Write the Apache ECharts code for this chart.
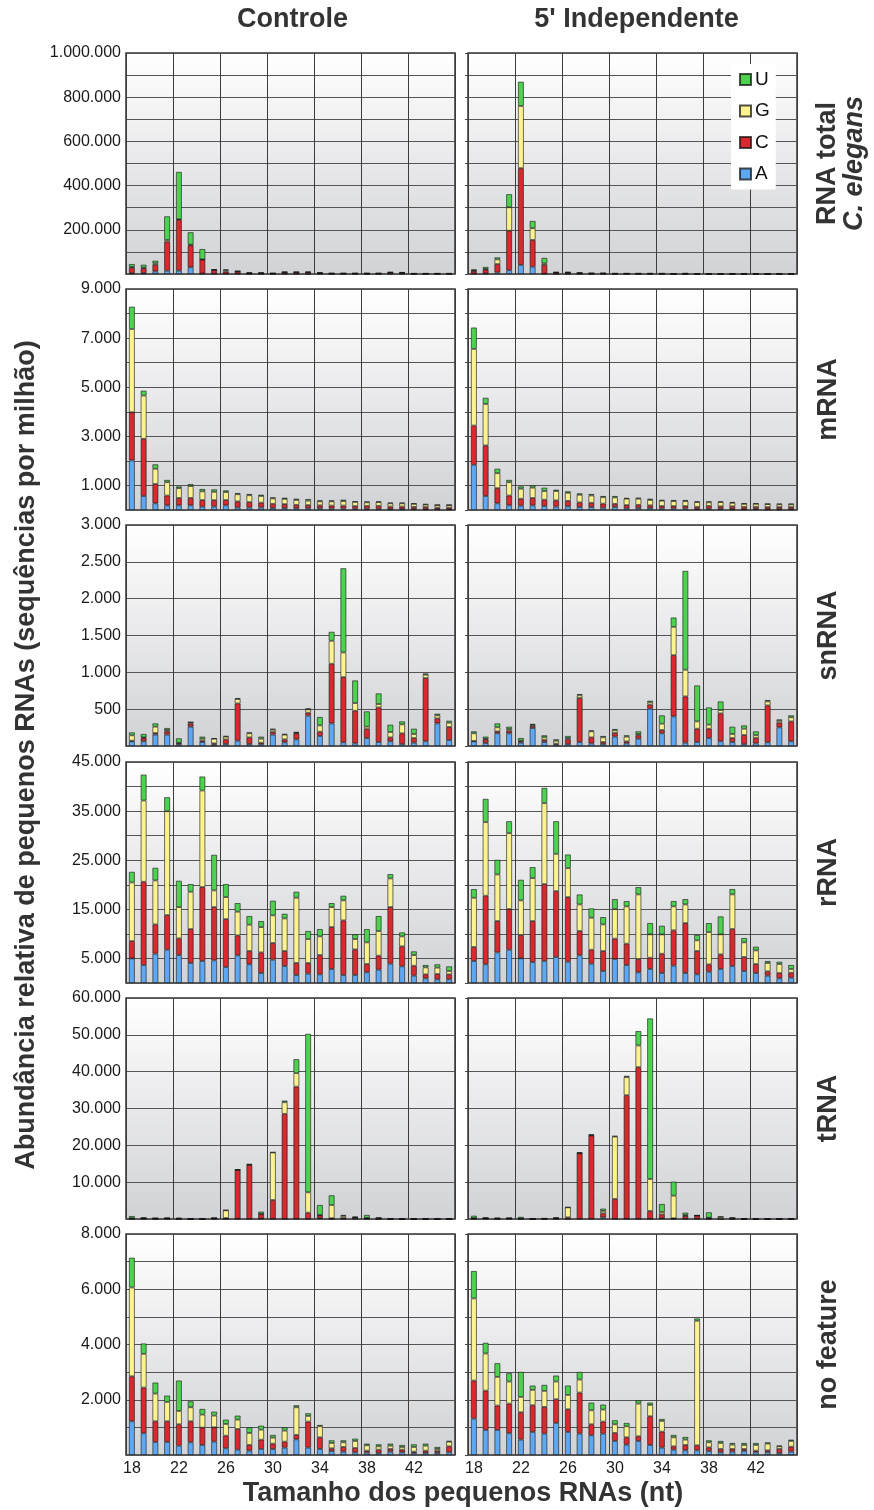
<!DOCTYPE html>
<html><head><meta charset="utf-8">
<script src="https://cdn.jsdelivr.net/npm/echarts@6/dist/echarts.min.js"></script>
<style>html,body{margin:0;padding:0;background:#fff}#c{width:874px;height:1510px}</style>
</head><body><div id="c"></div>
<script>
// ---------- data ----------
const categories = ['18','19','20','21','22','23','24','25','26','27','28','29','30','31','32','33','34','35','36','37','38','39','40','41','42','43','44','45'];
const bases = ['A','C','G','U'];
const columnTitles = ['Controle', "5' Independente"];
const rowTitles = ['RNA total', 'mRNA', 'snRNA', 'rRNA', 'tRNA', 'no feature'];
const xTitle = 'Tamanho dos pequenos RNAs (nt)';
const yTitle = 'Abundância relativa de pequenos RNAs (sequências por milhão)';

// RNA total C. elegans
const total_ctrl_A = [4000,4000,12000,15000,15000,30000,2000,1000,1000,1000,500,500,500,500,500,500,500,300,300,300,300,300,500,500,300,300,300,300];
const total_ctrl_C = [24000,22000,29000,131000,230000,100000,63000,17000,10000,10000,3000,3000,2000,7000,7000,7000,4000,2000,2000,2000,2000,2000,6000,5000,1500,1500,1500,1500];
const total_ctrl_G = [4000,3000,7000,8000,3000,3000,1000,1000,6000,1000,1000,1000,500,500,500,500,500,500,500,500,500,500,500,500,500,500,500,500];
const total_ctrl_U = [13000,13000,12000,107000,214000,56000,47000,2000,4000,2000,2500,2500,1000,2000,2000,2000,2000,1200,1200,1200,1200,1200,2000,2000,700,700,700,700];
const total_ind_A = [2000,2000,7000,17000,41000,33000,1000,500,500,300,300,300,200,200,200,200,200,100,100,100,100,100,100,100,100,100,100,100];
const total_ind_C = [12000,18000,38000,179000,438000,121000,40000,6000,6000,4000,2500,2500,2000,2000,2000,2000,2000,1000,1000,1000,500,500,500,500,500,500,500,500];
const total_ind_G = [2000,3000,21000,106000,281000,53000,7000,500,500,500,500,500,300,300,300,300,300,300,300,300,300,300,300,300,300,300,300,300];
const total_ind_U = [5000,9000,9000,59000,110000,33000,25000,2000,2000,1200,700,700,500,500,500,500,500,600,3000,600,300,300,300,300,300,300,300,300];

// mRNA
const mrna_ctrl_A = [2020,570,270,190,190,190,135,140,190,100,100,100,80,80,70,70,70,60,60,50,50,50,40,40,40,30,30,30];
const mrna_ctrl_C = [1960,2330,790,400,300,300,270,260,215,250,220,200,170,160,140,130,120,120,120,110,120,120,100,100,90,90,70,70];
const mrna_ctrl_G = [3390,1760,620,540,400,485,355,340,325,290,280,270,220,210,200,180,160,170,180,170,140,150,130,130,120,100,100,100];
const mrna_ctrl_U = [910,200,180,95,70,80,95,100,70,50,50,53,45,50,50,67,43,43,60,22,42,32,28,28,21,24,17,17];
const mrna_ind_A = [1840,570,270,190,176,190,163,136,150,120,120,90,120,70,80,80,60,60,60,40,50,50,40,30,40,30,30,30];
const mrna_ind_C = [1600,2060,620,400,284,300,257,257,220,190,170,170,130,130,130,110,100,100,100,90,120,100,110,100,90,90,90,90];
const mrna_ind_G = [3120,1690,610,540,407,420,352,379,330,310,300,260,260,260,250,220,220,200,200,190,140,170,140,120,120,120,110,110];
const mrna_ind_U = [870,250,180,95,95,95,136,55,60,58,60,49,59,28,41,50,26,46,46,32,42,32,35,21,21,17,27,27];

// snRNA
const snrna_ctrl_A = [63,63,154,154,23,262,54,18,27,72,27,23,154,50,90,411,136,307,50,36,108,54,63,27,45,63,307,81];
const snrna_ctrl_C = [9,45,22,45,13,41,18,18,63,506,90,22,36,40,82,41,58,809,885,443,122,470,54,145,63,859,68,177];
const snrna_ctrl_G = [73,9,86,18,9,18,27,63,37,59,55,54,31,64,9,45,86,312,335,104,32,45,73,122,55,45,41,58];
const snrna_ctrl_U = [40,46,45,27,59,4,28,5,9,14,13,28,14,9,9,14,113,122,1143,307,208,145,99,40,72,18,22,27];
const snrna_ind_A = [63,41,172,172,45,244,54,18,27,54,36,27,127,36,99,506,172,402,45,54,108,63,54,27,36,50,253,63];
const snrna_ind_C = [5,49,27,36,18,27,27,14,63,597,81,27,49,27,46,54,45,831,628,181,127,380,54,122,72,501,63,271];
const snrna_ind_G = [104,9,54,22,9,18,36,40,18,36,82,63,36,64,18,32,86,384,362,99,54,45,55,86,37,54,27,55];
const snrna_ind_U = [27,28,54,32,36,9,28,18,28,18,13,19,18,18,36,22,113,127,1342,488,235,117,99,45,54,19,18,27];

// rRNA
const rrna_ctrl_A = [5000,3660,5970,6780,5700,4070,4480,4610,3250,5630,3800,2030,4750,3460,1630,1900,1760,2850,1630,1630,2170,2710,3930,3390,1490,950,750,750];
const rrna_ctrl_C = [3540,16950,5960,7050,3390,6910,15050,10850,9760,4070,2710,4200,3390,3050,2440,2170,3930,8540,11120,5220,1690,2850,11530,4070,2030,810,1080,1010];
const rrna_ctrl_G = [11930,16540,8950,21150,6370,7600,19660,3390,4480,4810,5360,5150,5630,6640,13290,4880,3800,4070,4070,2100,4410,5020,5830,2030,2170,1420,1290,680];
const rrna_ctrl_U = [2170,5290,2580,2850,5360,1560,2850,7255,2650,1760,1760,1230,2980,950,1220,1630,1490,810,950,950,2710,3050,880,810,750,480,680,950];
const rrna_ind_A = [4475,3800,6240,6780,5020,4270,4480,5290,4340,5630,3930,2440,4880,3660,2170,2850,2030,3530,2030,1760,2300,2850,3460,2440,2030,1490,950,1090];
const rrna_ind_C = [2850,13970,6370,8270,4750,8340,15660,13420,13150,4950,2850,4070,4140,4340,2710,2300,3930,7190,10170,4750,1490,2980,7530,2850,1830,880,1080,1010];
const rrna_ind_G = [10030,14980,9490,15460,7050,8750,16480,7590,5900,5420,6510,5420,6030,7590,13150,4750,3930,4880,3800,2170,6580,4070,7050,2980,2780,1700,1830,750];
const rrna_ind_U = [1760,4750,2980,2440,4200,2240,3120,6650,2780,2030,1900,1490,2030,1090,1490,2310,1770,1080,1080,1090,1830,3660,1090,880,750,410,470,810];

// tRNA
const trna_ctrl_A = [50,50,30,30,30,0,0,20,50,50,50,100,50,50,50,50,200,50,50,100,50,30,0,0,0,0,0,0];
const trna_ctrl_C = [100,150,40,150,50,0,0,200,200,13250,14600,1200,5100,28500,35900,1670,800,150,300,300,150,30,0,0,0,0,0,0];
const trna_ctrl_G = [50,50,150,50,30,0,0,30,2100,50,100,100,12900,3150,3640,5530,100,3600,500,50,100,250,0,0,0,0,0,0];
const trna_ctrl_U = [600,110,50,40,250,0,0,20,100,150,200,600,100,450,3800,43030,2700,2630,240,180,800,50,0,0,0,0,0,0];
const trna_ind_A = [50,50,30,30,30,0,30,30,50,50,50,450,50,50,50,50,200,50,50,50,50,40,30,0,0,0,0,0];
const trna_ind_C = [150,150,40,150,50,0,50,150,400,17800,22600,1100,5400,33560,41170,2120,1070,150,750,850,200,30,30,0,0,0,0,0];
const trna_ind_G = [50,50,150,50,50,0,50,100,2700,50,100,640,16930,4900,5890,8700,630,6140,250,50,100,500,250,0,0,0,0,0];
const trna_ind_U = [650,110,50,40,450,0,50,80,50,220,260,620,180,360,3900,43580,2170,3800,670,50,1460,60,50,0,0,0,0,0];

// no feature
const nof_ctrl_A = [1220,786,471,471,338,459,363,483,242,193,157,218,218,266,568,266,218,145,121,97,85,73,121,97,73,73,73,97];
const nof_ctrl_C = [1630,1655,750,750,774,762,628,520,459,750,206,338,193,217,157,943,423,97,169,157,72,120,97,96,48,84,72,217];
const nof_ctrl_G = [3215,1221,1003,701,483,507,471,423,423,338,435,362,217,399,1003,205,398,193,169,254,193,121,120,97,169,181,73,169];
const nof_ctrl_U = [1077,374,398,229,1100,218,206,145,157,145,205,145,97,121,73,97,49,97,73,84,61,73,73,73,97,73,72,25];
const nof_ind_A = [1317,906,906,786,556,834,773,1160,834,773,713,773,508,375,508,363,266,193,169,169,145,97,121,145,97,97,73,121];
const nof_ind_C = [1378,1426,883,1075,991,967,967,858,822,1487,399,436,290,266,169,1039,580,121,194,181,133,121,97,73,60,72,145,181];
const nof_ind_G = [2973,1342,1039,798,556,556,580,641,519,471,507,435,314,398,1184,411,387,327,193,4508,181,217,157,145,206,242,96,206];
const nof_ind_U = [991,387,495,302,906,157,218,217,339,278,278,181,145,121,121,84,72,84,97,85,73,73,60,72,72,48,24,48];

// y-axis tick labels per row
const ticks_total = [200000,400000,600000,800000,1000000];
const ticks_mrna = [1000,3000,5000,7000,9000];
const ticks_snrna = [500,1000,1500,2000,2500,3000];
const ticks_rrna = [5000,15000,25000,35000,45000];
const ticks_trna = [10000,20000,30000,40000,50000,60000];
const ticks_nof = [2000,4000,6000,8000];

// ---------- assembly ----------
const panelData = [
  [[total_ctrl_A,total_ctrl_C,total_ctrl_G,total_ctrl_U],[total_ind_A,total_ind_C,total_ind_G,total_ind_U]],
  [[mrna_ctrl_A,mrna_ctrl_C,mrna_ctrl_G,mrna_ctrl_U],[mrna_ind_A,mrna_ind_C,mrna_ind_G,mrna_ind_U]],
  [[snrna_ctrl_A,snrna_ctrl_C,snrna_ctrl_G,snrna_ctrl_U],[snrna_ind_A,snrna_ind_C,snrna_ind_G,snrna_ind_U]],
  [[rrna_ctrl_A,rrna_ctrl_C,rrna_ctrl_G,rrna_ctrl_U],[rrna_ind_A,rrna_ind_C,rrna_ind_G,rrna_ind_U]],
  [[trna_ctrl_A,trna_ctrl_C,trna_ctrl_G,trna_ctrl_U],[trna_ind_A,trna_ind_C,trna_ind_G,trna_ind_U]],
  [[nof_ctrl_A,nof_ctrl_C,nof_ctrl_G,nof_ctrl_U],[nof_ind_A,nof_ind_C,nof_ind_G,nof_ind_U]]
];
const rowTicks = [ticks_total, ticks_mrna, ticks_snrna, ticks_rrna, ticks_trna, ticks_nof];
const rowScale = [[1000000,100000],[9000,1000],[3000,500],[45000,5000],[60000,10000],[8000,1000]];

const colors = {A:'#5ea7f3', C:'#d8292f', G:'#fcf28e', U:'#4dd24f'};
const FONT = '"Liberation Sans", Arial, Helvetica, sans-serif';
const fmt = v => String(v).replace(/\B(?=(\d{3})+(?!\d))/g, '.');

const colLeft = [126, 468];
const plotW = 329, plotH = 221;
const rowTop = [53, 289, 525, 762, 998, 1234];

const grids = [], xAxes = [], yAxes = [], series = [];
let idx = 0;
for (let r = 0; r < 6; r++) {
  for (let c = 0; c < 2; c++) {
    grids.push({
      left: colLeft[c], top: rowTop[r], width: plotW, height: plotH,
      show: true,
      backgroundColor: {type:'linear', x:0, y:0, x2:0, y2:1, colorStops:[{offset:0,color:'#ffffff'},{offset:1,color:'#d1d2d5'}]},
      borderColor: '#333', borderWidth: 1.5, z: 0
    });
    xAxes.push({
      type: 'category', gridIndex: idx, data: categories, boundaryGap: true,
      axisLine: {show: false}, axisTick: {show: false},
      axisLabel: {show: r === 5, interval: 3, fontSize: 16, color: '#1a1a1a', fontFamily: FONT, margin: 6},
      splitLine: {show: true, interval: 3, lineStyle: {color: '#3c3c3c', width: 1}}
    });
    const tl = rowTicks[r];
    yAxes.push({
      type: 'value', gridIndex: idx, min: 0, max: rowScale[r][0], interval: rowScale[r][1],
      axisLine: {show: false},
      axisTick: {show: c === 1, length: 3, lineStyle: {color: '#444'}},
      axisLabel: {show: c === 0, fontSize: 16, color: '#1a1a1a', fontFamily: FONT, margin: 5,
        formatter: v => tl.indexOf(v) >= 0 ? fmt(v) : ''},
      splitLine: {show: true, lineStyle: {color: '#555', width: 1}}
    });
    const d = panelData[r][c];
    bases.forEach((b, k) => {
      series.push({
        type: 'bar', name: b, stack: 'p' + idx, xAxisIndex: idx, yAxisIndex: idx,
        data: d[k], barWidth: '50%',
        itemStyle: {color: colors[b], borderColor: 'rgba(20,20,20,0.75)', borderWidth: 0.8},
        emphasis: {disabled: true}
      });
    });
    idx++;
  }
}

const graphic = [];
const titleStyle = {fontFamily: FONT, fontWeight: 'bold', fontSize: 27, fill: '#333', align: 'center', verticalAlign: 'middle'};
graphic.push({type:'text', x: colLeft[0] + plotW/2 + 2, y: 20, style: Object.assign({text: columnTitles[0]}, titleStyle)});
graphic.push({type:'text', x: colLeft[1] + plotW/2 + 4, y: 20, style: Object.assign({text: columnTitles[1]}, titleStyle)});
graphic.push({type:'text', x: 463, y: 1494, style: Object.assign({text: xTitle}, titleStyle)});
graphic.push({type:'text', x: 27, y: 755, rotation: Math.PI/2, style: Object.assign({text: yTitle}, titleStyle)});
// row labels
graphic.push({type:'text', x: 828, y: rowTop[0] + plotH/2, rotation: Math.PI/2, style: Object.assign({text: rowTitles[0]}, titleStyle)});
graphic.push({type:'text', x: 855, y: rowTop[0] + plotH/2, rotation: Math.PI/2, style: Object.assign({text: 'C. elegans', fontStyle: 'italic'}, titleStyle)});
for (let r = 1; r < 6; r++) {
  graphic.push({type:'text', x: 829, y: rowTop[r] + plotH/2, rotation: Math.PI/2, style: Object.assign({text: rowTitles[r]}, titleStyle)});
}

const chart = echarts.init(document.getElementById('c'), null, {renderer: 'canvas'});
chart.setOption({
  animation: false,
  backgroundColor: '#ffffff',
  grid: grids, xAxis: xAxes, yAxis: yAxes, series: series,
  legend: {
    data: ['U','G','C','A'], orient: 'vertical', left: 731, top: 64,
    backgroundColor: '#ffffff', padding: [6, 6, 6, 8],
    itemWidth: 11, itemHeight: 11, itemGap: 12.5, icon: 'rect',
    textStyle: {fontSize: 19, color: '#111', fontFamily: FONT, padding: [0,0,0,-1]},
    selectedMode: false
  },
  graphic: graphic
});
</script></body></html>
